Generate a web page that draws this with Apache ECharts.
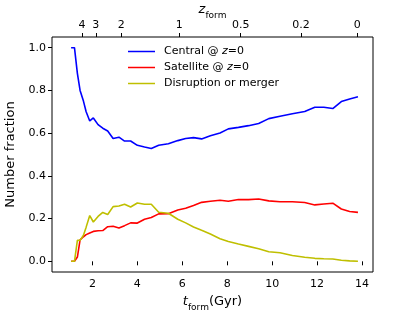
<!DOCTYPE html>
<html><head><meta charset="utf-8">
<script src="https://cdn.jsdelivr.net/npm/echarts@6/dist/echarts.min.js"></script>
<style>html,body{margin:0;padding:0;background:#fff}#c{width:415px;height:311px}</style>
</head><body><div id="c"></div>
<script>
// formation time grid (Gyr)
const tForm = [1.05,1.2,1.33,1.45,1.6,1.72,1.88,2.04,2.25,2.46,2.68,2.92,3.18,3.43,3.7,4.0,4.32,4.62,4.95,5.38,5.8,6.15,6.5,6.86,7.25,7.68,8.05,8.5,8.95,9.4,9.85,10.35,10.9,11.45,11.9,12.3,12.7,13.08,13.45,13.82];
const central = [1.0,1.0,0.88,0.80,0.75,0.70,0.657,0.671,0.64,0.623,0.61,0.575,0.581,0.563,0.563,0.543,0.535,0.528,0.543,0.55,0.565,0.575,0.579,0.573,0.588,0.601,0.62,0.627,0.635,0.645,0.668,0.679,0.691,0.701,0.721,0.721,0.715,0.748,0.76,0.77];
const satellite = [0,0,0.02,0.10,0.115,0.125,0.133,0.14,0.143,0.144,0.162,0.164,0.156,0.167,0.18,0.179,0.197,0.205,0.222,0.223,0.24,0.248,0.261,0.276,0.281,0.286,0.281,0.289,0.289,0.292,0.283,0.279,0.279,0.275,0.264,0.268,0.272,0.245,0.233,0.229];
const disruption = [0,0,0.098,0.098,0.122,0.16,0.214,0.184,0.21,0.229,0.219,0.256,0.259,0.267,0.254,0.273,0.267,0.267,0.23,0.225,0.197,0.18,0.161,0.145,0.128,0.106,0.093,0.081,0.07,0.059,0.045,0.04,0.027,0.019,0.014,0.012,0.011,0.005,0.002,0.0];
const seriesNames = ['Central @ z=0','Satellite @ z=0','Disruption or merger'];
const xTicks = [2,4,6,8,10,12,14];
const yTicks = [0,0.2,0.4,0.6,0.8,1.0];
const zTickLabels = ['4','3','2','1','0.5','0.2','0'];
const zTickT = [1.54,2.15,3.28,5.86,8.60,11.28,13.79];

const FONT = 'DejaVu Sans';
const pair = a => tForm.map((t,i)=>[t,a[i]]);
const chart = echarts.init(document.getElementById('c'));
const axisCommon = {
  axisLine:{show:false},
  splitLine:{show:false},
};
const lineIcon = 'path://M0,0 L36,0 L36,2 L0,2 Z';
chart.setOption({
  animation:false,
  textStyle:{fontFamily:FONT},
  grid:{left:52,right:42,top:37,bottom:39,show:true,borderColor:'#000',borderWidth:1,outerBoundsMode:'none',containLabel:false},
  legend:{
    orient:'vertical',left:128,top:46,padding:0,itemWidth:27,itemHeight:14,itemGap:5,
    data:seriesNames.map(n=>({name:n,icon:lineIcon})),
    formatter:function(n){
      if(n.indexOf('@')>=0){const p=n.split(' @ ');return '{b|'+p[0]+' @ }{i|z}{a|=0}';}
      return '{b|'+n+'}';
    },
    textStyle:{fontFamily:FONT,fontSize:11,color:'#000',
      rich:{a:{fontFamily:FONT,fontSize:11,color:'#000'},
            b:{fontFamily:FONT,fontSize:11,color:'#000',padding:[0,0,0,4]},
            i:{fontFamily:FONT,fontSize:11,color:'#000',fontStyle:'italic'}}}
  },
  xAxis:[
    Object.assign({},axisCommon,{
      type:'value',position:'bottom',min:0.2,max:14.49,
      axisTick:{show:true,length:4,lineStyle:{color:'#000'},customValues:xTicks},
      axisLabel:{customValues:xTicks,fontSize:11,color:'#000',margin:7,fontFamily:FONT},
      name:'{t|t}{s|form}{n|(Gyr)}',nameLocation:'middle',nameGap:20,
      nameTextStyle:{rich:{
        t:{fontFamily:FONT,fontSize:13,fontStyle:'italic',color:'#000',verticalAlign:'bottom',padding:[0,0,4,0]},
        s:{fontFamily:FONT,fontSize:9,color:'#000',verticalAlign:'bottom'},
        n:{fontFamily:FONT,fontSize:13,color:'#000',verticalAlign:'bottom',padding:[0,0,4,0]}}}
    }),
    Object.assign({},axisCommon,{
      type:'value',position:'top',min:0.2,max:14.49,
      axisTick:{show:true,length:4,lineStyle:{color:'#000'},customValues:zTickT},
      axisLabel:{customValues:zTickT,fontSize:11,color:'#000',margin:6,fontFamily:FONT,
        formatter:function(v){let b=0,d=1e9;zTickT.forEach((t,i)=>{if(Math.abs(t-v)<d){d=Math.abs(t-v);b=i;}});return zTickLabels[b];}},
      name:'{z|z}{s|form}',nameLocation:'middle',nameGap:17,nameMoveOverlap:false,
      nameTextStyle:{rich:{
        z:{fontFamily:FONT,fontSize:13,fontStyle:'italic',color:'#000',verticalAlign:'bottom',padding:[0,0,4,0]},
        s:{fontFamily:FONT,fontSize:9,color:'#000',verticalAlign:'bottom'}}}
    })
  ],
  yAxis:[Object.assign({},axisCommon,{
    type:'value',min:-0.05,max:1.05,
    axisTick:{show:true,length:4,lineStyle:{color:'#000'},customValues:yTicks},
    axisLabel:{customValues:yTicks,fontSize:11,color:'#000',margin:6,fontFamily:FONT,formatter:v=>v.toFixed(1)},
    name:'Number fraction',nameLocation:'middle',nameGap:31,
    nameTextStyle:{fontFamily:FONT,fontSize:13,color:'#000'}
  })],
  series:[
    {name:seriesNames[0],type:'line',data:pair(central),symbol:'none',lineStyle:{color:'#0000ff',width:1.6},itemStyle:{color:'#0000ff'}},
    {name:seriesNames[1],type:'line',data:pair(satellite),symbol:'none',lineStyle:{color:'#ff0000',width:1.6},itemStyle:{color:'#ff0000'}},
    {name:seriesNames[2],type:'line',data:pair(disruption),symbol:'none',lineStyle:{color:'#bfbf00',width:1.6},itemStyle:{color:'#bfbf00'}}
  ]
});
</script></body></html>
